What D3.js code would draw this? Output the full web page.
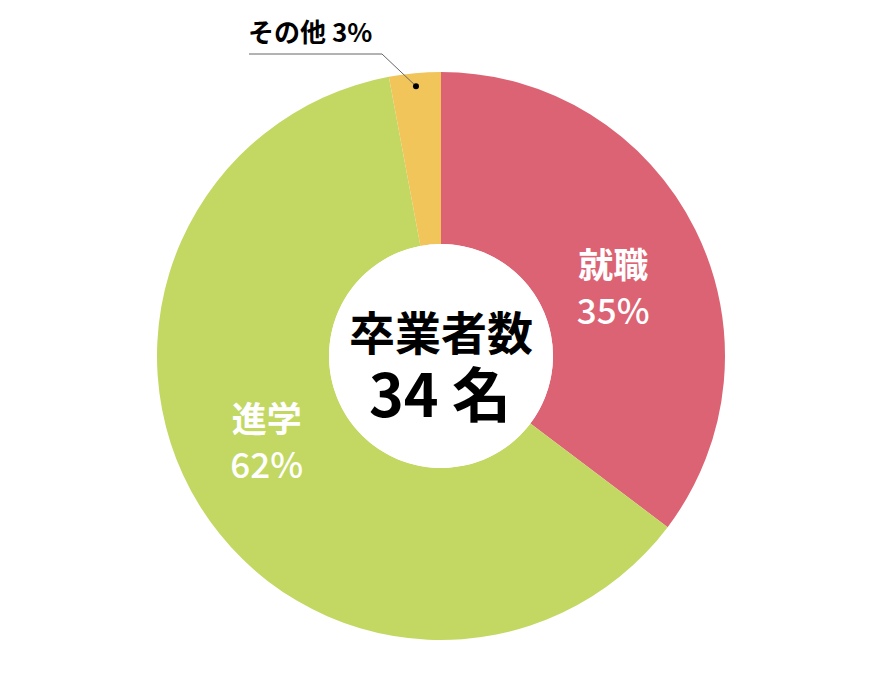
<!DOCTYPE html>
<html><head><meta charset="utf-8">
<script src="https://cdn.jsdelivr.net/npm/d3@7"></script>
<style>html,body{margin:0;padding:0;background:#fff}svg{display:block}</style>
</head><body>
<svg id="chart" width="881" height="700"></svg>
<script>
const categories = ["就職", "進学", "その他"];
const counts = [12, 21, 1];
const percentLabels = ["35%", "62%", "3%"];
const colors = ["#dc6374", "#c2d862", "#f2c55b"];
const totalLabel = "卒業者数";
const totalValue = "34 名";

const W = 881, H = 700, cx = 441, cy = 356, rOut = 284, rIn = 112;
const svg = d3.select("#chart");
const g = svg.append("g").attr("transform", `translate(${cx},${cy})`);
const data = categories.map((c, i) => ({name: c, value: counts[i], pct: percentLabels[i], color: colors[i]}));
const pie = d3.pie().sort(null).value(d => d.value);
const arcs = pie(data);
const arc = d3.arc().innerRadius(rIn).outerRadius(rOut);
g.selectAll("path").data(arcs).enter().append("path")
  .attr("d", arc).attr("fill", d => d.data.color);
g.append("circle").attr("r", rIn).attr("fill", "#fff");

const font = "'Noto Sans CJK JP', 'Noto Sans', sans-serif";
// center
g.append("text").attr("x", 0).attr("y", -6).attr("text-anchor", "middle")
  .attr("font-family", font).attr("font-weight", 700).attr("font-size", 46).attr("fill", "#000")
  .text(totalLabel);
g.append("text").attr("x", -1).attr("y", 61).attr("text-anchor", "middle")
  .attr("font-family", font).attr("font-weight", 700).attr("font-size", 59).attr("fill", "#000")
  .text(totalValue);

// inside labels (first two slices)
const shifts = [[-5, 18], [-6, -20]];
arcs.slice(0, 2).forEach((a, i) => {
  const c = d3.arc().innerRadius(198).outerRadius(198).centroid(a);
  const x = c[0] + shifts[i][0], y = c[1] + shifts[i][1];
  g.append("text").attr("x", x).attr("y", y - 8).attr("text-anchor", "middle")
    .attr("font-family", font).attr("font-weight", 700).attr("font-size", 35).attr("fill", "#fff")
    .text(a.data.name);
  g.append("text").attr("x", x).attr("y", y + 38).attr("text-anchor", "middle")
    .attr("font-family", font).attr("font-weight", 500).attr("font-size", 35).attr("fill", "#fff")
    .text(a.data.pct);
});

// その他 leader
const small = arcs[2];
const dot = d3.arc().innerRadius(271).outerRadius(271).centroid(small);
const elbow = [-59, -302], endX = -192;
g.append("polyline")
  .attr("points", `${dot[0]},${dot[1]} ${elbow[0]},${elbow[1]} ${endX},${elbow[1]}`)
  .attr("fill", "none").attr("stroke", "#666").attr("stroke-width", 1);
g.append("circle").attr("cx", dot[0]).attr("cy", dot[1]).attr("r", 3).attr("fill", "#000");
g.append("text").attr("x", endX - 1).attr("y", elbow[1] - 12).attr("text-anchor", "start")
  .attr("font-family", font).attr("font-weight", 700).attr("font-size", 26).attr("fill", "#000")
  .text(small.data.name + " " + small.data.pct);
</script>
</body></html>
